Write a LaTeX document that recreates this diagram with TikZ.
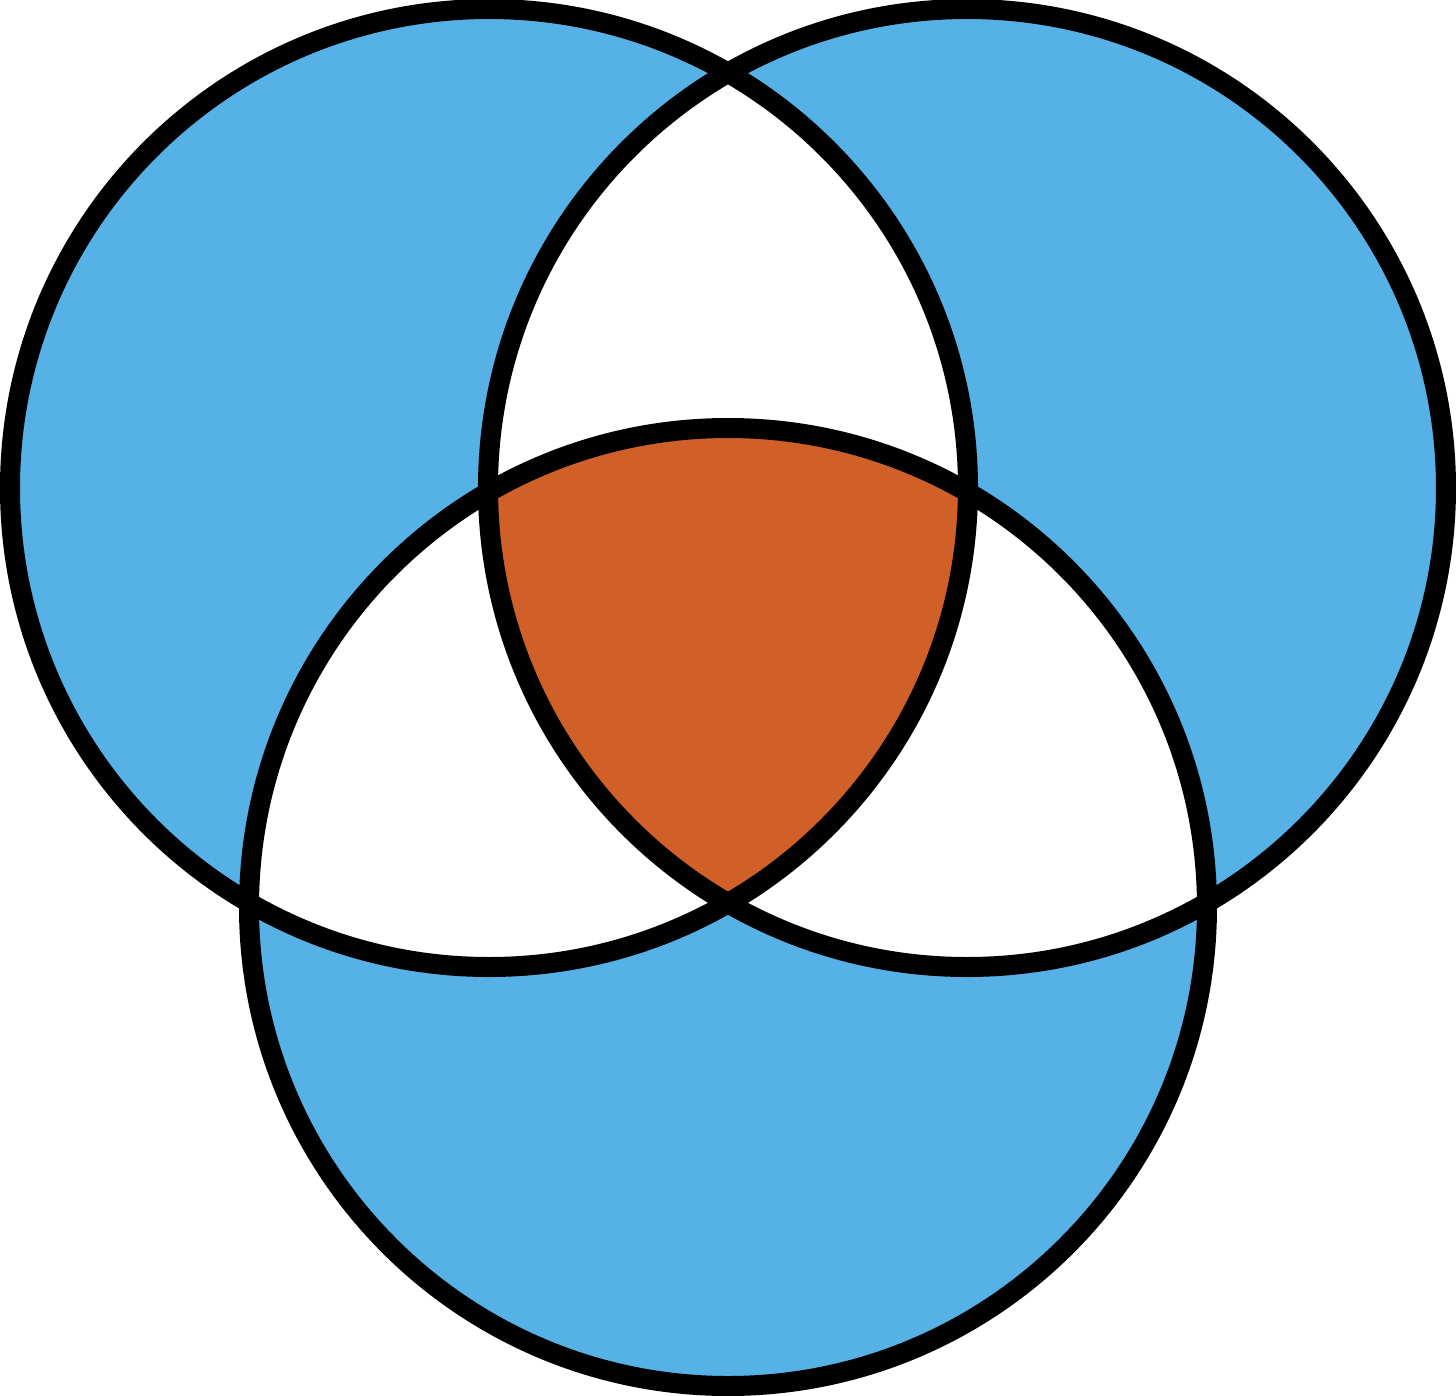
\documentclass[tikz,border=0pt]{standalone}
\definecolor{vblue}{HTML}{56B2E6}
\definecolor{vorange}{HTML}{D06028}
\begin{document}
\begin{tikzpicture}[x=0.01cm,y=-0.01cm,
  ring/.style={draw=black,line width=0.2cm}]
\useasboundingbox (0,0) rectangle (1456,1396);
\coordinate (L) at (489,488);
\coordinate (R) at (967,488);
\coordinate (B) at (728,907);
\def\rr{479}
% single regions
\fill[vblue] (L) circle (\rr);
\fill[vblue] (R) circle (\rr);
\fill[vblue] (B) circle (\rr);
% pairwise
\begin{scope}
  \clip (L) circle (\rr);
  \fill[white] (R) circle (\rr);
  \fill[white] (B) circle (\rr);
\end{scope}
\begin{scope}
  \clip (R) circle (\rr);
  \fill[white] (B) circle (\rr);
\end{scope}
% triple
\begin{scope}
  \clip (L) circle (\rr);
  \clip (R) circle (\rr);
  \fill[vorange] (B) circle (\rr);
\end{scope}
\draw[ring] (L) circle (\rr);
\draw[ring] (R) circle (\rr);
\draw[ring] (B) circle (\rr);
\end{tikzpicture}
\end{document}
